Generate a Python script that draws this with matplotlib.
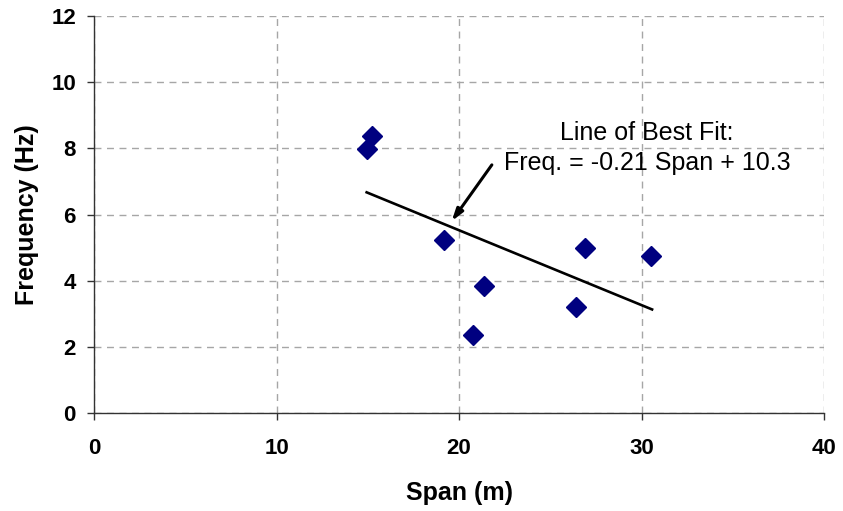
import matplotlib
matplotlib.use("Agg")
import matplotlib.pyplot as plt

# 측정 데이터 (경간 vs 고유진동수)
span = [14.96, 15.25, 19.18, 20.78, 21.37, 26.39, 26.90, 30.52]
freq = [7.99, 8.37, 5.23, 2.35, 3.84, 3.21, 4.99, 4.75]

# 최적 적합선 양 끝점
fit_x = [14.94, 30.58]
fit_y = [6.67, 3.13]

x_ticks = [0, 10, 20, 30, 40]
y_ticks = [0, 2, 4, 6, 8, 10, 12]

plt.rcParams["font.family"] = ["Liberation Sans", "DejaVu Sans"]

fig = plt.figure(figsize=(8.43, 5.11), dpi=100)
ax = fig.add_axes([94 / 843, 1 - 413 / 511, 730 / 843, 397 / 511])

ax.plot(span, freq, linestyle="none", marker="D", markersize=10,
        color="#000080", zorder=3)
ax.plot(fit_x, fit_y, color="black", linewidth=1.9, zorder=2)

# 적합선 설명 텍스트 + 화살표
ax.text(30.3, 8.46, "Line of Best Fit:", ha="center", va="center", fontsize=18)
ax.text(30.3, 7.56, "Freq. = -0.21 Span + 10.3", ha="center", va="center", fontsize=18)
ax.annotate("", xy=(19.6, 5.8), xytext=(21.8, 7.5),
            arrowprops=dict(arrowstyle="-|>,head_length=0.7,head_width=0.22",
                            color="black", lw=2.2, shrinkA=0, shrinkB=0))

ax.set_xlim(0, 40)
ax.set_ylim(0, 12)
ax.set_xticks(x_ticks)
ax.set_yticks(y_ticks)
ax.tick_params(labelsize=16, length=5, width=1, color="#333333")
ax.tick_params(axis="x", pad=13)
ax.tick_params(axis="y", pad=8)
for lbl in ax.get_xticklabels() + ax.get_yticklabels():
    lbl.set_fontweight("bold")

ax.grid(True, linestyle=(0, (5, 4)), color="#a6a6a6", linewidth=1)
ax.set_axisbelow(True)
for side in ["top", "right"]:
    ax.spines[side].set_visible(False)
for side in ["left", "bottom"]:
    ax.spines[side].set_color("#333333")
    ax.spines[side].set_linewidth(1)

ax.set_xlabel("Span (m)", fontsize=18, fontweight="bold", labelpad=16)
ax.set_ylabel("Frequency (Hz)", fontsize=18, fontweight="bold", labelpad=9)

fig.savefig("out.png", dpi=100)
